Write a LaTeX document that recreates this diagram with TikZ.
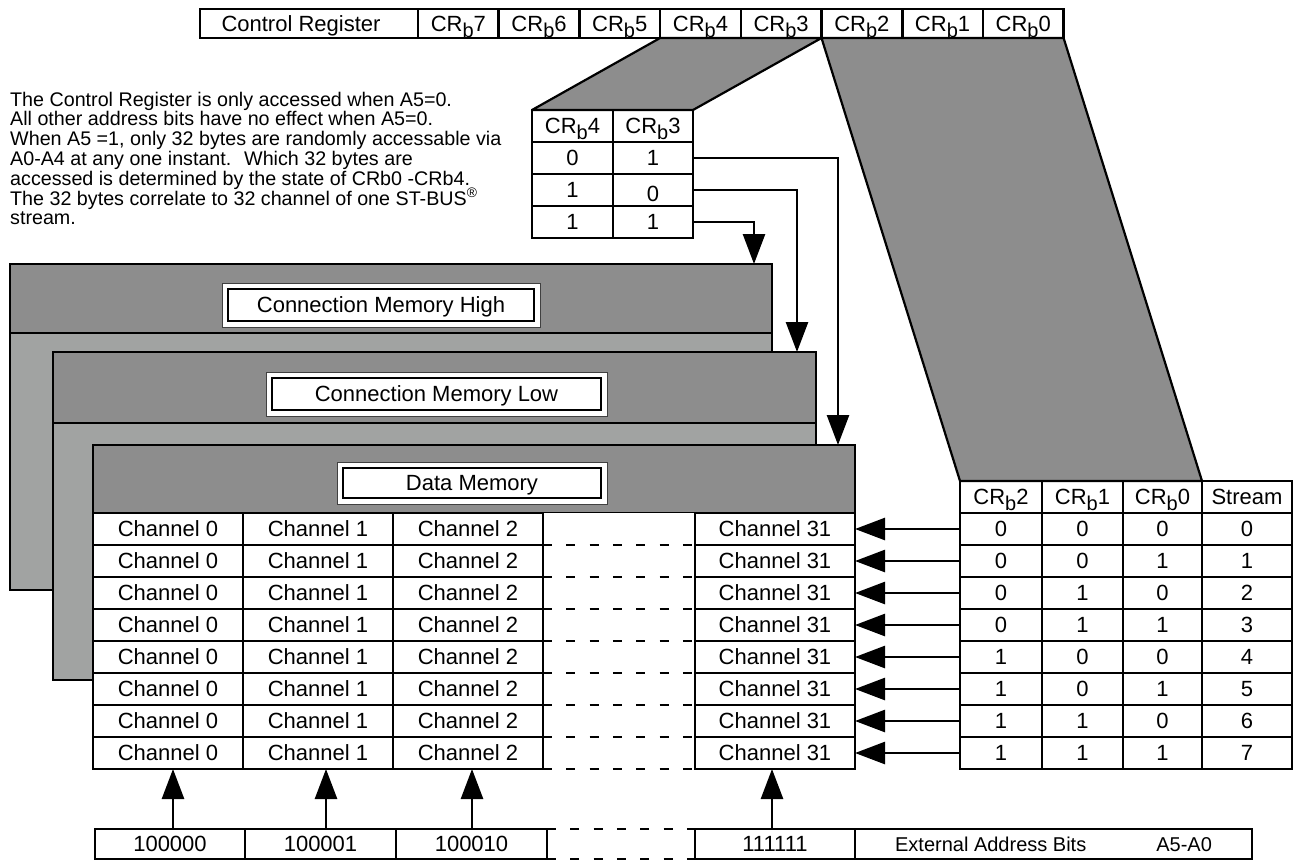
\documentclass[tikz,border=0pt]{standalone}
\usepackage{fontspec}
\setmainfont{Liberation Sans}
\usetikzlibrary{arrows.meta,backgrounds}
\definecolor{dkgray}{RGB}{141,141,141}
\definecolor{ltgray}{RGB}{161,163,162}
\newcommand\crb[1]{CR\raisebox{-6pt}{\fontsize{20}{20}\selectfont b}#1}
\begin{document}
\begin{tikzpicture}[x=1pt,y=-1pt,
  every node/.style={inner sep=0pt},
  cell/.style={draw,line width=2.6pt,outer sep=0pt,minimum height=32pt,text height=15.75pt,text depth=0pt,font=\fontsize{22}{26}\selectfont},
  arr/.style={line width=2.6pt,-{Triangle[length=30pt,width=22pt]}},
  dashln/.style={line width=2.6pt,dash pattern=on 9pt off 14.3pt},
  band/.style={draw,line width=2.6pt,fill=dkgray},
  body/.style={draw,line width=2.6pt,fill=ltgray},
  titleout/.style={draw=black!75,line width=1pt,fill=white},
  titlein/.style={draw,line width=1.4pt},
  ttext/.style={text height=15.75pt,text depth=0pt,font=\fontsize{22}{26}\selectfont},
  txt/.style={font=\fontsize{19.7}{20}\selectfont,anchor=base west},
  trap/.style={draw,line width=2.2pt,fill=dkgray,line join=round}
]
\useasboundingbox (0,0) rectangle (1296,863);

% description
\node[txt] (d1) at (10,106) {The Control Register is only accessed when A5=0.};
\node[txt] (d2) at (10,125.8) {All other address bits have no effect when A5=0.};
\node[txt] (d3) at (10,145.6) {When A5 =1, only 32 bytes are randomly accessable via};
\node[txt] (d4) at (10,165.4) {A0-A4 at any one instant.~ Which 32 bytes are};
\node[txt] (d5) at (10,185.2) {accessed is determined by the state of CRb0 -CRb4.};
\node[txt] (d6) at (10,205) {The 32 bytes correlate to 32 channel of one ST-BUS\textsuperscript{\textregistered}};
\node[txt] (d7) at (10,224.8) {stream.};

% Connection Memory High
\draw[body] (10,264) rectangle (772,590);
\draw[band] (10,264) rectangle (772,333);
\draw[titleout] (222,283) rectangle (540,327);
\draw[titlein] (228,289) rectangle (534,321);
\node[ttext] (tcmh) at (381,305) {Connection Memory High};

% Connection Memory Low
\draw[body] (53,352) rectangle (816,680);
\draw[band] (53,352) rectangle (816,423);
\draw[titleout] (266,372) rectangle (607,416);
\draw[titlein] (272,378) rectangle (601,410);
\node[ttext] (tcml) at (436.5,394) {Connection Memory Low};

% Data Memory
\draw[band] (93,445) rectangle (855,513);
\fill[white] (93,513) rectangle (855,769);
\draw[titleout] (337,462) rectangle (607,504);
\draw[titlein] (343,468) rectangle (601,498);
\node[ttext] (tdm) at (472,483) {Data Memory};

\foreach \r in {0,...,7} {
  \pgfmathsetmacro\yy{529+32*\r}
  \node[cell,minimum width=150pt] (ca\r) at (168,\yy) {Channel 0};
  \node[cell,minimum width=150pt] (cb\r) at (318,\yy) {Channel 1};
  \node[cell,minimum width=150pt] (cc\r) at (468,\yy) {Channel 2};
  \node[cell,minimum width=160pt] (cd\r) at (775,\yy) {Channel 31};
  \draw[dashln] (cc\r.south east) -- (cd\r.south west);
}

% Control register
\node[cell,minimum width=218pt,minimum height=29pt] (creg) at (309,23.5) {Control Register\hspace*{16pt}};
\foreach \t [count=\i from 0] in {7,6,5,4,3,2,1,0} {
  \pgfmathsetmacro\xx{458.35+80.7*\i}
  \node[cell,minimum width=80.7pt,minimum height=29pt] (cr\t) at (\xx,23.5) {\crb{\t}};
}

% small table CRb4 / CRb3
\node[cell,minimum width=81pt] (sh4) at (572.5,126) {\crb{4}};
\node[cell,minimum width=80pt] (sh3) at (653,126) {\crb{3}};
\node[cell,minimum width=81pt] (s1a) at (572.5,158) {0};
\node[cell,minimum width=80pt] (s1b) at (653,158) {1};
\node[cell,minimum width=81pt] (s2a) at (572.5,190) {1};
\node[cell,minimum width=80pt] (s2b) at (653,190) {\raisebox{-4pt}{0}};
\node[cell,minimum width=81pt] (s3a) at (572.5,222) {1};
\node[cell,minimum width=80pt] (s3b) at (653,222) {1};

\coordinate (tH) at (754,264);
\coordinate (tL) at (797,352);
\coordinate (tD) at (838,445);
\draw[arr] (s3b.east) -| (tH);
\draw[arr] (s2b.east) -| (tL);
\draw[arr] (s1b.east) -| (tD);

% right table
\node[cell,minimum width=82pt] (rh2) at (1001,497) {\crb{2}};
\node[cell,minimum width=81pt] (rh1) at (1082.5,497) {\crb{1}};
\node[cell,minimum width=79pt] (rh0) at (1162.5,497) {\crb{0}};
\node[cell,minimum width=90pt] (rhs) at (1247,497) {Stream};
\foreach \a/\b/\c/\s [count=\r from 0] in {0/0/0/0,0/0/1/1,0/1/0/2,0/1/1/3,1/0/0/4,1/0/1/5,1/1/0/6,1/1/1/7} {
  \pgfmathsetmacro\yy{529+32*\r}
  \node[cell,minimum width=82pt] (ra\r) at (1001,\yy) {\a};
  \node[cell,minimum width=81pt] (rb\r) at (1082.5,\yy) {\b};
  \node[cell,minimum width=79pt] (rc\r) at (1162.5,\yy) {\c};
  \node[cell,minimum width=90pt] (rs\r) at (1247,\yy) {\s};
  \draw[arr] (ra\r.west) -- (cd\r.east);
}

% bottom address row
\node[cell,minimum width=150pt,minimum height=30pt] (b0) at (170,844) {100000};
\node[cell,minimum width=151pt,minimum height=30pt] (b1) at (320.5,844) {100001};
\node[cell,minimum width=151pt,minimum height=30pt] (b2) at (471.5,844) {100010};
\node[cell,minimum width=160pt,minimum height=30pt] (b3) at (775,844) {111111};
\node[cell,minimum width=397pt,minimum height=30pt] (b4) at (1053.5,844) {\fontsize{20}{24}\selectfont External Address Bits\hspace*{70pt}A5-A0};
\draw[dashln] (b2.north east) -- (b3.north west);
\draw[dashln] (b2.south east) -- (b3.south west);

\coordinate (u0) at ([xshift=3pt]b0.north);
\coordinate (u1) at ([xshift=5.5pt]b1.north);
\coordinate (u2) at ([xshift=0.5pt]b2.north);
\coordinate (u3) at ([xshift=-3pt]b3.north);
\draw[arr] (u0) -- (u0 |- ca7.south);
\draw[arr] (u1) -- (u1 |- cb7.south);
\draw[arr] (u2) -- (u2 |- cc7.south);
\draw[arr] (u3) -- (u3 |- cd7.south);

% grey fans
\begin{scope}[on background layer]
\draw[trap] (cr4.south west) -- (cr3.south east) -- (sh3.north east) -- (sh4.north west) -- cycle;
\draw[trap] (cr2.south west) -- (cr0.south east) -- (rh0.north east) -- (rh2.north west) -- cycle;
\end{scope}
\end{tikzpicture}
\end{document}
